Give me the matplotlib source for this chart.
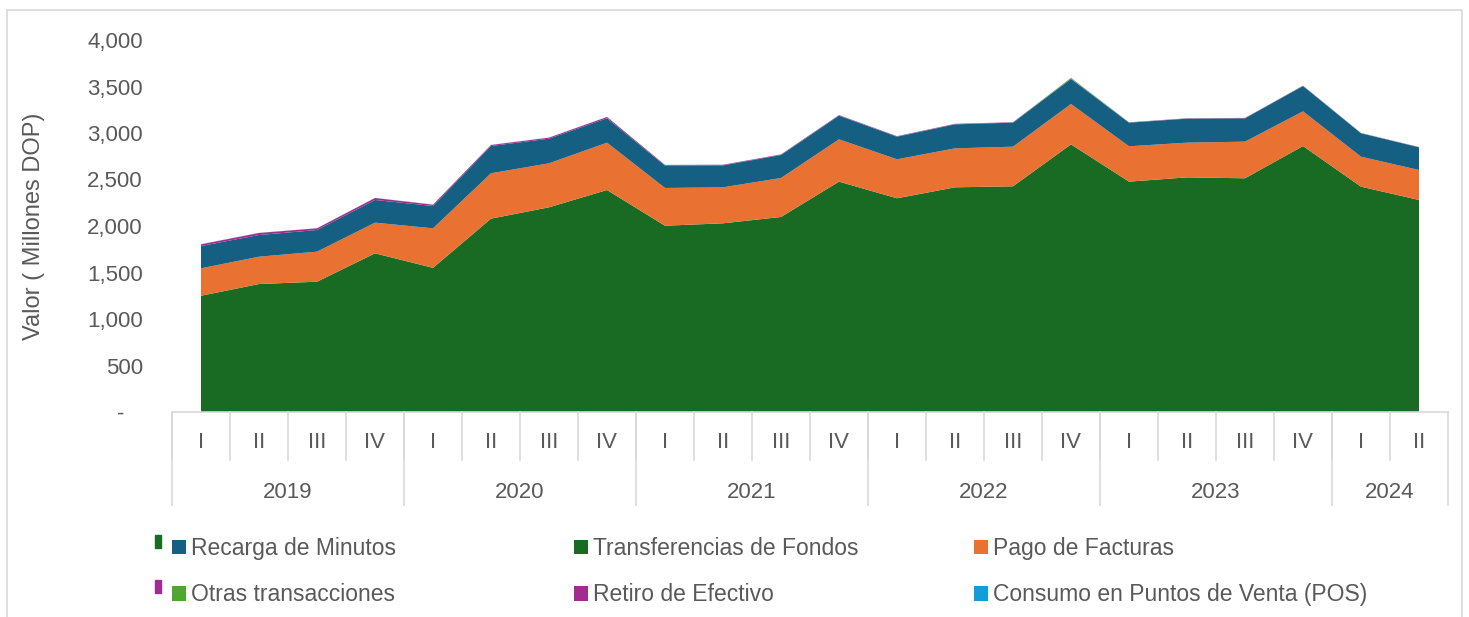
import numpy as np
import matplotlib
matplotlib.use('Agg')
import matplotlib.pyplot as plt
from matplotlib.patches import Rectangle, Patch

# Quarterly values (millions DOP)
years = ['2019', '2020', '2021', '2022', '2023', '2024']
quarters_per_year = [4, 4, 4, 4, 4, 2]
quarter_labels = ['I', 'II', 'III', 'IV'] * 5 + ['I', 'II']

transferencias = [1250, 1376, 1401, 1706, 1550, 2079, 2201, 2387, 2003, 2029, 2097,
                  2477, 2298, 2416, 2427, 2878, 2477, 2523, 2513, 2860, 2423, 2280]
pago_facturas = [295, 294, 323, 330, 425, 488, 473, 509, 406, 387, 419,
                 455, 419, 419, 426, 434, 380, 373, 394, 373, 322, 322]
recarga = [240, 233, 233, 244, 240, 293, 265, 262, 240, 236, 247,
           254, 243, 258, 258, 269, 254, 258, 251, 272, 252, 244]
retiro = [18, 22, 18, 21, 14, 11, 11, 14, 7, 6, 6,
          6, 5, 5, 4, 3, 3, 3, 3, 3, 2, 2]
otras = [1, 1, 1, 1, 1, 1, 1, 1, 1, 1, 1,
         1, 1, 1, 1, 9, 1, 1, 1, 1, 1, 1]
pos = [0.5] * 22

c_green = '#196b24'
c_orange = '#e97132'
c_blue = '#156082'
c_lgreen = '#4ea72e'
c_purple = '#a02b93'
c_sky = '#0f9ed5'
txt = '#595959'
grid = '#d9d9d9'

plt.rcParams['font.family'] = ['Liberation Sans', 'DejaVu Sans']

fig = plt.figure(figsize=(14.69, 6.17), dpi=100)
ax = fig.add_axes([172 / 1469, 1 - 412 / 617, 1276 / 1469, 372 / 617])

x = np.arange(len(transferencias))
ax.stackplot(x, transferencias, pago_facturas, recarga, retiro, otras, pos,
             colors=[c_green, c_orange, c_blue, c_purple, c_lgreen, c_sky],
             linewidth=0)

ax.set_xlim(-0.5, len(x) - 0.5)
ax.set_ylim(0, 4000)
ax.set_yticks(range(0, 4001, 500))
ax.set_yticklabels(['-   '] + [f'{v:,}' for v in range(500, 4001, 500)])
ax.tick_params(axis='y', length=0, pad=21, labelsize=16, labelcolor=txt)
ax.set_xticks([])
for s in ['top', 'right', 'left']:
    ax.spines[s].set_visible(False)
ax.spines['bottom'].set_color(grid)
ax.spines['bottom'].set_linewidth(1.2)
ax.set_ylabel('Valor ( Millones DOP)', fontsize=17, color=txt)
ax.yaxis.set_label_coords(-127 / 1276, 0.5)

# two-level category axis
tr = ax.get_xaxis_transform()
q_h = 48 / 372
y_h = 93 / 372
for i, lab in enumerate(quarter_labels):
    ax.text(i, -30 / 372, lab, transform=tr, ha='center', va='center',
            fontsize=16, color=txt)
    ax.plot([i - 0.5, i - 0.5], [0, -q_h], transform=tr, color=grid,
            lw=1.2, clip_on=False)
start = 0
for yr, n in zip(years, quarters_per_year):
    ax.plot([start - 0.5, start - 0.5], [0, -y_h], transform=tr, color=grid,
            lw=1.2, clip_on=False)
    ax.text(start + n / 2 - 0.5, -80 / 372, yr, transform=tr, ha='center',
            va='center', fontsize=16, color=txt)
    start += n
ax.plot([start - 0.5, start - 0.5], [0, -y_h], transform=tr, color=grid,
        lw=1.2, clip_on=False)

# legend, three columns placed side by side
leg_font = {'size': 16.5}
cols = [
    [('Recarga de Minutos', c_blue), ('Otras transacciones', c_lgreen)],
    [('Transferencias de Fondos', c_green), ('Retiro de Efectivo', c_purple)],
    [('Pago de Facturas', c_orange), ('Consumo en Puntos de Venta (POS)', c_sky)],
]
for xpos, col in zip([172, 574, 974], cols):
    handles = [Patch(facecolor=c, edgecolor='none', label=l) for l, c in col]
    lg = fig.legend(handles=handles, loc='upper left',
                    bbox_to_anchor=(xpos / 1469, 1 - 537 / 617), frameon=False,
                    prop=leg_font, handlelength=0.6, handleheight=0.6,
                    handletextpad=0.25, labelspacing=1.02, borderaxespad=0,
                    borderpad=0)
    for t in lg.get_texts():
        t.set_color(txt)

# small clipped legend marks at the left
fig.patches.append(Rectangle((155 / 1469, 1 - 548 / 617), 6 / 1469, 13 / 617,
                             transform=fig.transFigure, color=c_green))
fig.patches.append(Rectangle((155 / 1469, 1 - 593 / 617), 6 / 1469, 13 / 617,
                             transform=fig.transFigure, color=c_purple))

# chart frame
fig.patches.append(Rectangle((7 / 1469, -0.05), 1455 / 1469, 1.05 - 10 / 617,
                             transform=fig.transFigure, fill=False,
                             edgecolor=grid, lw=1.2))

fig.savefig('out.png', dpi=100)
